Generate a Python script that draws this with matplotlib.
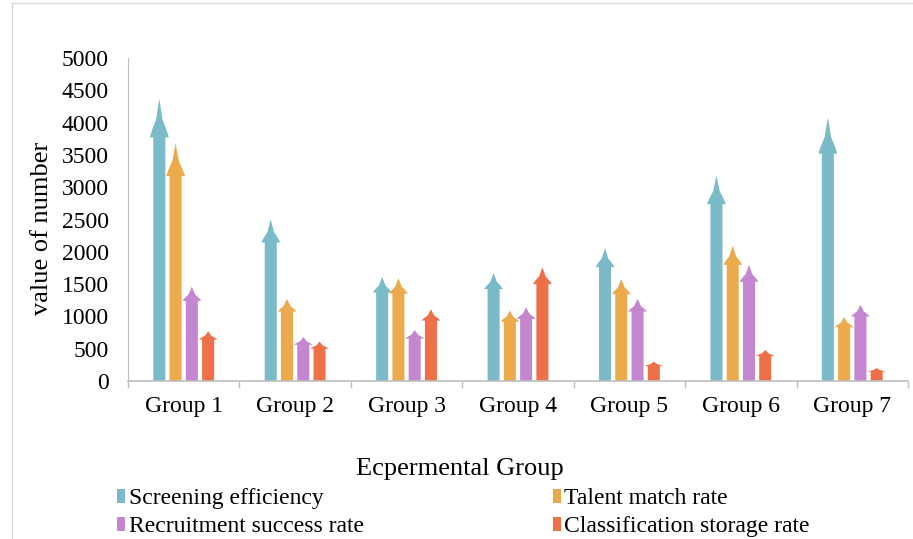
import matplotlib
matplotlib.use("Agg")
import matplotlib.pyplot as plt
import numpy as np
from matplotlib.patches import Polygon, Patch
from matplotlib.lines import Line2D

plt.rcParams['font.family'] = ['Liberation Serif', 'DejaVu Serif']

groups = ['Group 1', 'Group 2', 'Group 3', 'Group 4', 'Group 5', 'Group 6', 'Group 7']
screening = [4370, 2500, 1610, 1670, 2060, 3180, 4080]
talent = [3680, 1270, 1590, 1090, 1580, 2100, 990]
recruit = [1460, 680, 790, 1140, 1270, 1800, 1180]
classif = [770, 610, 1110, 1760, 300, 480, 200]
series_names = ['Screening efficiency', 'Talent match rate',
                'Recruitment success rate', 'Classification storage rate']
colors = ['#7BBAC8', '#EBAA4B', '#C486CE', '#EE7049']
yticks = [0, 500, 1000, 1500, 2000, 2500, 3000, 3500, 4000, 4500, 5000]

fig = plt.figure(figsize=(9.13, 5.39), dpi=100)
ax = fig.add_axes([0.1402, 0.2931, 0.8543, 0.5993])

slot = 0.146
shaft_w = 0.108
head_w = 0.17


def arrow(ax, x, v, color):
    # arrow-shaped bar: shaft + concave pointed head
    hh = 0.13 * v + 30
    hb = v - hh
    sw = shaft_w / 2
    hw = head_w / 2
    pts = [(x - sw, 0), (x - sw, hb), (x - hw, hb), (x - hw * 0.75, hb + hh * 0.2),
           (x - sw * 0.55, hb + hh * 0.45), (x, v),
           (x + sw * 0.55, hb + hh * 0.45), (x + hw * 0.75, hb + hh * 0.2),
           (x + hw, hb), (x + sw, hb), (x + sw, 0)]
    ax.add_patch(Polygon(pts, closed=True, facecolor=color, edgecolor='none'))


all_series = [screening, talent, recruit, classif]
xs = np.arange(len(groups))
for i, (vals, c) in enumerate(zip(all_series, colors)):
    off = (i - 1.5) * slot
    for x, v in zip(xs, vals):
        arrow(ax, x + off, v, c)

ax.set_xlim(-0.5, 6.5)
ax.set_ylim(0, 5000)
ax.set_yticks(yticks)
ax.set_xticks(xs)
ax.set_xticklabels(groups)
ax.set_xticks(np.arange(-0.5, 7, 1), minor=True)
ax.tick_params(axis='x', which='major', length=0, labelsize=17, pad=11)
ax.tick_params(axis='x', which='minor', length=5, color='#BFBFBF', width=1)
ax.tick_params(axis='y', length=0, labelsize=17, pad=14)

for s in ['top', 'right']:
    ax.spines[s].set_visible(False)
ax.spines['left'].set_color('#BFBFBF')
ax.spines['bottom'].set_color('#BFBFBF')
ax.spines['bottom'].set_linewidth(1.2)

ax.set_xlabel('Ecpermental Group', fontsize=19)
ax.xaxis.set_label_coords(0.4256, -0.237)
ax.set_ylabel('value of number', fontsize=19)
ax.yaxis.set_label_coords(-0.096, 0.474)

# legend fills column-wise; order so rows read like the reference
handles = [Patch(facecolor=c, edgecolor='none') for c in colors]
order = [0, 2, 1, 3]
fig.legend([handles[i] for i in order], [series_names[i] for i in order],
           ncol=2, loc='upper left',
           bbox_to_anchor=(0.128, 0.0946), frameon=False, fontsize=17,
           handlelength=0.35, handleheight=0.55, handletextpad=0.15,
           columnspacing=8.0, labelspacing=0.31, borderpad=0, borderaxespad=0)

# outer chart border (cut off at right and bottom)
fig.add_artist(Line2D([12 / 913, 1.0], [1 - 3 / 539, 1 - 3 / 539],
                      transform=fig.transFigure, color='#D9D9D9', lw=1))
fig.add_artist(Line2D([12 / 913, 12 / 913], [0, 1 - 3 / 539],
                      transform=fig.transFigure, color='#D9D9D9', lw=1))

fig.savefig('out.png', dpi=100)
